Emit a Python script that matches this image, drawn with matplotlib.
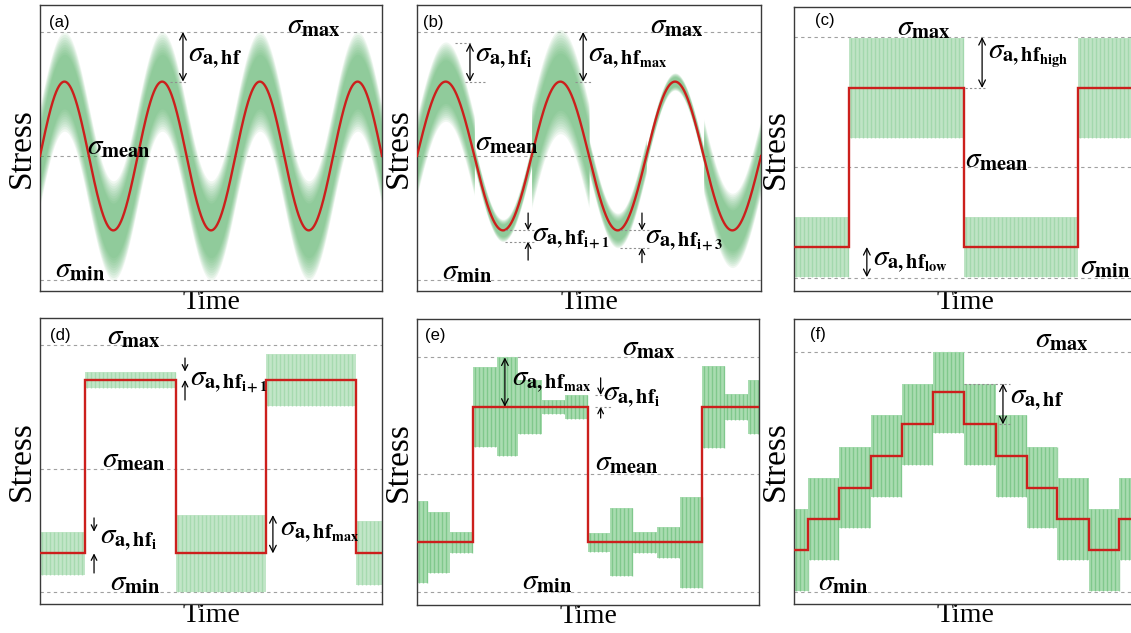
import numpy as np
import matplotlib.pyplot as plt

plt.rcParams['font.family'] = ['Liberation Serif', 'DejaVu Serif']
plt.rcParams['mathtext.fontset'] = 'stix'

# time runs 0..100 across every panel, stress is scaled so sigma_max = 1, sigma_min = -1

# (a) sine with constant hf amplitude
a_cycles = 3.5
a_amp = 0.6
a_hf = 0.4

# (b) sine, hf amplitude changes every half cycle
b_cycles = 3
b_amp = 0.6
b_hf = [0.32, 0.09, 0.42, 0.14, 0.07, 0.30]

# (c) two level blocks
c_edges = [0, 16.1, 49.7, 83.0, 100]
c_level = [-0.743, 0.577, -0.743, 0.577]
c_hf = [0.25, 0.415, 0.25, 0.415]
c_mean = -0.079

# (d) two level blocks, hf amplitude changes per block
d_edges = [0, 13.2, 39.8, 66.1, 92.4, 100]
d_level = [-0.687, 0.717, -0.687, 0.717, -0.687]
d_hf = [0.175, 0.068, 0.31, 0.21, 0.26]

# (e) two level blocks, hf amplitude changes inside blocks
e_edges = [0, 3.3, 9.65, 16.5, 23.3, 29.6, 36.5, 43.3, 50.1,
           56.4, 63.3, 70.1, 76.9, 83.4, 90.1, 96.9, 100]
e_level = [-0.58] * 3 + [0.574] * 5 + [-0.58] * 5 + [0.574] * 3
e_hf = [0.35, 0.26, 0.09, 0.34, 0.42, 0.23, 0.06, 0.10,
        0.08, 0.29, 0.09, 0.13, 0.39, 0.35, 0.11, 0.23]

# (f) staircase mean, constant hf amplitude
f_edges = [0, 4.2, 13.2, 22.4, 31.7, 40.7, 49.8, 59.0, 68.0, 77.0, 86.3, 95.1, 100]
f_level = [-0.653, -0.394, -0.133, 0.131, 0.395, 0.661,
           0.395, 0.131, -0.133, -0.394, -0.653, -0.394]
f_hf = 0.34

RED = '#cc1f1c'
W, H = 1131, 633

fig = plt.figure(figsize=(W / 100, H / 100), dpi=100)


def make_ax(l, t, r, b, ylim, mean=0.0):
    ax = fig.add_axes([l / W, 1 - b / H, (r - l) / W, (b - t) / H])
    ax.set_xlim(0, 100)
    ax.set_ylim(*ylim)
    ax.set_xticks([])
    ax.set_yticks([])
    for s in ax.spines.values():
        s.set_color('#3a3a3a')
        s.set_linewidth(1.0)
    levels = [1, -1] if mean is None else [1, -1, mean]
    for y in levels:
        ax.axhline(y, color='#a0a0a0', lw=0.8, dashes=(3, 3), zorder=1)
    ax.set_ylabel('Stress', fontsize=24, labelpad=2)
    ax.set_xlabel('Time', fontsize=20, labelpad=-1)
    return ax


def sig(ax, x, y, sub, fs=21):
    ax.text(x, y, r'$\sigma_{' + sub + '}$', fontsize=fs, ha='left', va='center', zorder=5)


def dbl(ax, x, y0, y1):
    ax.annotate('', xy=(x, y1), xytext=(x, y0),
                arrowprops=dict(arrowstyle='<->', lw=0.9, color='k',
                                shrinkA=0, shrinkB=0, mutation_scale=12))


def pin(ax, x, y0, y1):
    ax.annotate('', xy=(x, y1), xytext=(x, y0),
                arrowprops=dict(arrowstyle='->', lw=0.9, color='k',
                                shrinkA=0, shrinkB=0, mutation_scale=10))


def dash(ax, x0, x1, y):
    ax.plot([x0, x1], [y, y], color='#909090', lw=0.8, dashes=(2, 2), zorder=4)


def label(ax, txt, fx, fy):
    ax.text(fx, fy, txt, transform=ax.transAxes, family='Liberation Sans',
            fontsize=12, va='center', ha='left')


def sine_band(ax, cycles, amp, hf):
    t = np.linspace(0, 100, 4000)
    ph = t / 100 * cycles
    red = amp * np.sin(2 * np.pi * ph)
    hf = np.asarray(hf, dtype=float)
    if hf.ndim:
        idx = np.clip((ph * 2).astype(int), 0, len(hf) - 1)
        hf = hf[idx]
    for k in np.linspace(1.0, 0.55, 10):
        ax.fill_between(t, red - k * hf, red + k * hf, color='#4fb060',
                        alpha=0.09, lw=0, zorder=2)
    ax.plot(t, red, color=RED, lw=1.7, zorder=3)


def block_band(ax, edges, level, hf, light, dark, step=1.17):
    hf = np.broadcast_to(np.asarray(hf, dtype=float), (len(level),))
    for x0, x1, lv, h in zip(edges[:-1], edges[1:], level, hf):
        ax.fill_between([x0, x1], lv - h, lv + h, color=light, lw=0, zorder=2)
        xs = np.arange(x0 + step / 2, x1, step)
        ax.vlines(xs, lv - h, lv + h, color=dark, lw=1.0, alpha=0.7, zorder=2)
    ax.stairs(level, edges, baseline=None, color=RED, lw=1.7, zorder=3)


MX = r'\mathbf{max}'
MN = r'\mathbf{min}'
ME = r'\mathbf{mean}'
AH = r'\mathbf{a,hf}'
I1 = r'_{\mathbf{i}\,\mathbf{+}\,\mathbf{1}}'
I3 = r'_{\mathbf{i}\,\mathbf{+}\,\mathbf{3}}'

# (a)
ax = make_ax(40, 5, 382, 291, (-1.089, 1.218))
sine_band(ax, a_cycles, a_amp, a_hf)
label(ax, '(a)', 0.026, 0.94)
sig(ax, 72.2, 1.05, MX)
sig(ax, 43.3, 0.79, AH)
sig(ax, 13.7, 0.07, ME)
sig(ax, 4.4, -0.92, MN)
dbl(ax, 41.8, 1.0, 0.6)
dash(ax, 38, 43, 0.6)

# (b)
ax = make_ax(417, 5, 761, 291, (-1.089, 1.218))
sine_band(ax, b_cycles, b_amp, b_hf)
label(ax, '(b)', 0.017, 0.94)
sig(ax, 67.7, 1.05, MX)
sig(ax, 16.9, 0.79, AH + r'_{\mathbf{i}}')
sig(ax, 49.7, 0.79, AH + r'_{\mathbf{max}}')
sig(ax, 16.9, 0.105, ME)
sig(ax, 33.4, -0.66, AH + I1)
sig(ax, 66.3, -0.68, AH + I3)
sig(ax, 7.3, -0.94, MN)
dbl(ax, 15.4, 0.91, 0.6)
dbl(ax, 48.3, 1.0, 0.6)
dash(ax, 11, 16, 0.91)
dash(ax, 14, 20, 0.6)
dash(ax, 46, 51, 0.6)
pin(ax, 32.3, -0.46, -0.6)
pin(ax, 32.3, -0.84, -0.69)
dash(ax, 25.6, 34.3, -0.6)
dash(ax, 25.6, 34.3, -0.69)
pin(ax, 65.4, -0.46, -0.6)
pin(ax, 65.4, -0.86, -0.74)
dash(ax, 59, 67.7, -0.6)
dash(ax, 59, 67.7, -0.74)

# (c)
ax = make_ax(794, 7, 1136, 291, (-1.108, 1.249), mean=c_mean)
block_band(ax, c_edges, c_level, c_hf, '#bfe4c5', '#98d4a3')
label(ax, '(c)', 0.061, 0.954)
sig(ax, 30.1, 1.075, MX)
sig(ax, 56.7, 0.834, AH + r'_{\mathbf{high}}')
sig(ax, 50.0, -0.02, ME)
sig(ax, 23.1, -0.867, AH + r'_{\mathbf{low}}')
sig(ax, 83.6, -0.909, MN)
dbl(ax, 55.0, 1.0, 0.577)
dash(ax, 50, 56, 0.577)
dbl(ax, 21.3, -0.743, -0.993)

# (d)
ax = make_ax(40, 318, 382, 604, (-1.097, 1.219))
block_band(ax, d_edges, d_level, d_hf, '#c2e6c8', '#9bd5a5')
label(ax, '(d)', 0.03, 0.94)
sig(ax, 19.6, 1.065, MX)
sig(ax, 43.9, 0.70, AH + I1)
sig(ax, 18.1, 0.07, ME)
sig(ax, 17.5, -0.58, AH + r'_{\mathbf{i}}')
sig(ax, 70.2, -0.51, AH + r'_{\mathbf{max}}')
sig(ax, 20.5, -0.93, MN)
pin(ax, 42.4, 0.895, 0.785)
pin(ax, 42.4, 0.555, 0.717)
pin(ax, 15.8, -0.40, -0.512)
pin(ax, 15.8, -0.846, -0.687)
dbl(ax, 68.1, -0.377, -0.687)

# (e)
ax = make_ax(417, 319, 759, 605, (-1.113, 1.321))
block_band(ax, e_edges, e_level, e_hf, '#a9dcb1', '#6fc07d')
label(ax, '(e)', 0.023, 0.944)
sig(ax, 59.9, 1.074, MX)
sig(ax, 27.8, 0.785, AH + r'_{\mathbf{max}}')
sig(ax, 54.4, 0.657, AH + r'_{\mathbf{i}}')
sig(ax, 52.0, 0.096, ME)
sig(ax, 30.7, -0.917, MN)
dbl(ax, 25.7, 0.994, 0.574)
pin(ax, 53.7, 0.82, 0.674)
pin(ax, 53.7, 0.478, 0.574)
dash(ax, 52, 57, 0.674)
dash(ax, 52, 57, 0.574)

# (f)
ax = make_ax(794, 319, 1136, 604, (-1.1025, 1.2725), mean=None)
block_band(ax, f_edges, f_level, f_hf, '#a9dcb1', '#6fc07d')
label(ax, '(f)', 0.047, 0.944)
sig(ax, 70.5, 1.10, MX)
sig(ax, 63.2, 0.60, AH)
sig(ax, 7.0, -0.93, MN)
dbl(ax, 61.1, 0.735, 0.395)
dash(ax, 49.7, 63.2, 0.735)
dash(ax, 59.9, 63.2, 0.395)

fig.savefig('out.png', dpi=100)
